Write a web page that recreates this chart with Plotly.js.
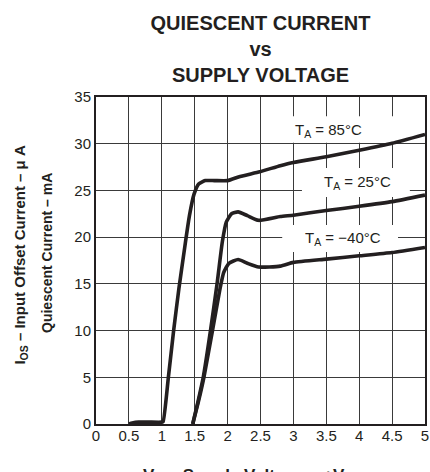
<!DOCTYPE html>
<html>
<head>
<meta charset="utf-8">
<script src="https://cdn.plot.ly/plotly-3.0.1.min.js"></script>
<style>
html,body{margin:0;padding:0;background:#fff;}
#chart{width:430px;height:472px;}
</style>
</head>
<body>
<div id="chart"></div>
<script>
// Supply voltage (V) and quiescent current (mA)
const vs85 = [0.5, 0.55, 0.65, 0.8, 1.0, 1.02, 1.10, 1.18, 1.26, 1.34, 1.42, 1.49, 1.56, 1.66, 1.8, 2.0, 2.19, 2.49, 2.8, 3.0, 3.5, 4.0, 4.5, 5.0];
const iq85 = [0.0, 0.1, 0.2, 0.2, 0.2, 0.25, 5.0, 10.0, 14.5, 18.5, 22.3, 24.6, 25.7, 26.05, 26.05, 26.05, 26.5, 27.0, 27.65, 28.0, 28.6, 29.3, 30.05, 31.0];

const vs25 = [1.47, 1.55, 1.63, 1.74, 1.84, 1.92, 1.98, 2.06, 2.16, 2.3, 2.47, 2.8, 3.0, 3.5, 4.0, 4.5, 5.0];
const iq25 = [0.0, 2.4, 5.0, 10.0, 15.0, 19.5, 21.6, 22.5, 22.7, 22.3, 21.8, 22.2, 22.35, 22.85, 23.3, 23.8, 24.5];

const vsM40 = [1.47, 1.56, 1.64, 1.77, 1.88, 1.94, 2.02, 2.16, 2.3, 2.47, 2.8, 3.0, 3.5, 4.0, 4.5, 5.0];
const iqM40 = [0.0, 2.5, 5.0, 10.0, 14.3, 16.2, 17.2, 17.6, 17.2, 16.8, 16.9, 17.3, 17.65, 18.0, 18.35, 18.9];

const seriesNames = ['T<sub>A</sub> = 85°C', 'T<sub>A</sub> = 25°C', 'T<sub>A</sub> = \u221240°C'];
const labelX = [3.53, 3.98, 3.75];
const labelY = [31.45, 25.9, 19.85];

const xTicks = [0, 0.5, 1, 1.5, 2, 2.5, 3, 3.5, 4, 4.5, 5];
const xTickText = ['0', '0.5', '1', '1.5', '2', '2.5', '3', '3.5', '4', '4.5', '5'];
const yTicks = [0, 5, 10, 15, 20, 25, 30, 35];

const ink = '#231f20';
const font = 'Liberation Sans, Arial, sans-serif';

function curve(x, y) {
  return {x: x, y: y, type: 'scatter', mode: 'lines',
    line: {color: ink, width: 3.6, shape: 'spline', smoothing: 0.5},
    hoverinfo: 'skip', showlegend: false};
}

const traces = [curve(vs85, iq85), curve(vs25, iq25), curve(vsM40, iqM40)];

// white label boxes (between grid and curves)
const boxes = [
  [2.67, 5.0, 30.1, 32.95],
  [3.13, 4.77, 24.3, 27.4],
  [2.83, 4.59, 18.4, 21.3]
].map(b => ({type: 'rect', xref: 'x', yref: 'y', x0: b[0], x1: b[1], y0: b[2], y1: b[3],
  fillcolor: '#ffffff', line: {width: 0}, layer: 'between'}));

const annotations = seriesNames.map((t, i) => ({
  x: labelX[i], y: labelY[i], xref: 'x', yref: 'y', text: t, showarrow: false,
  font: {family: font, size: 15, color: ink}, xanchor: 'center', yanchor: 'middle'
}));

annotations.push({
  text: 'Quiescent Current \u2013 mA', xref: 'paper', yref: 'paper',
  x: -0.149, y: 0.523, textangle: -90, showarrow: false, xanchor: 'center', yanchor: 'middle',
  font: {family: font, size: 14, color: ink, weight: 'bold'}
});
annotations.push({
  text: 'I<sub>OS</sub> \u2013 Input Offset Current \u2013 \u03bc A', xref: 'paper', yref: 'paper',
  x: -0.229, y: 0.517, textangle: -90, showarrow: false, xanchor: 'center', yanchor: 'middle',
  font: {family: font, size: 15, color: ink, weight: 'bold'}
});
annotations.push({
  text: 'Vs \u2013 Supply Voltage \u2013 +V', xref: 'paper', yref: 'paper',
  x: 0.45, y: -0.122, showarrow: false, xanchor: 'center', yanchor: 'top',
  font: {family: font, size: 17, color: ink, weight: 'bold'}
});

const layout = {
  width: 430, height: 472,
  margin: {l: 96, r: 5, t: 97, b: 48, pad: 0},
  paper_bgcolor: '#ffffff', plot_bgcolor: '#ffffff',
  title: {
    text: 'QUIESCENT CURRENT<br>vs<br>SUPPLY VOLTAGE',
    font: {family: font, size: 20, color: ink, weight: 'bold'},
    x: 0.5, xref: 'paper', xanchor: 'center',
    y: 0.937, yref: 'container', yanchor: 'top'
  },
  xaxis: {
    range: [0, 5], tickvals: xTicks, ticktext: xTickText, ticks: '',
    showgrid: true, gridcolor: '#3a3a3a', gridwidth: 1,
    showline: true, linecolor: ink, linewidth: 2, mirror: true,
    zeroline: false, fixedrange: true, ticklabelstandoff: -3,
    tickfont: {family: font, size: 15, color: ink}
  },
  yaxis: {
    range: [0, 35], tickvals: yTicks, ticks: '',
    showgrid: true, gridcolor: '#3a3a3a', gridwidth: 1,
    showline: true, linecolor: ink, linewidth: 2, mirror: true,
    zeroline: false, fixedrange: true, ticklabelstandoff: 0,
    tickfont: {family: font, size: 15, color: ink}
  },
  shapes: boxes,
  annotations: annotations
};

Plotly.newPlot('chart', traces, layout, {displayModeBar: false, staticPlot: true});
</script>
</body>
</html>
